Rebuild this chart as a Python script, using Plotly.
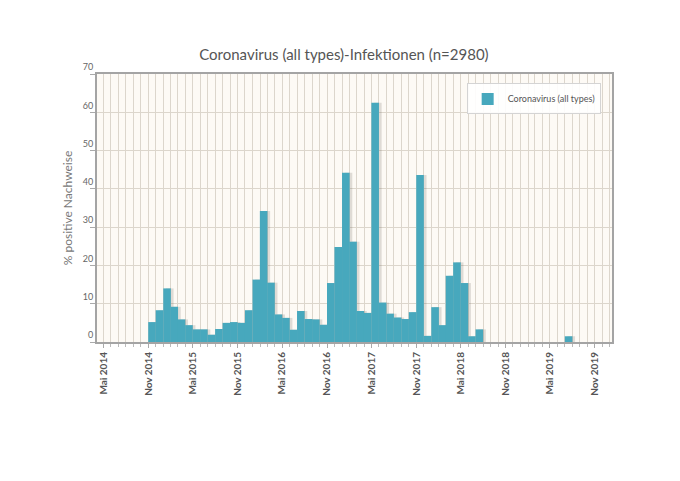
import pandas as pd
import plotly.graph_objects as go

# Monatswerte ab Nov 2014 (% positive Nachweise)
VALUES = [
    5.2, 8.3, 14.0, 9.2, 5.9, 4.4, 3.3, 3.3, 1.9, 3.4, 5.0, 5.2,      # Nov14 - Okt15
    5.0, 8.3, 16.3, 34.2, 15.5, 7.2, 6.3, 3.2, 8.1, 6.0, 5.9, 4.5,    # Nov15 - Okt16
    15.4, 24.8, 44.2, 26.2, 8.1, 7.6, 62.5, 10.3, 7.4, 6.4, 6.0, 7.8, # Nov16 - Okt17
    43.6, 1.6, 9.1, 4.4, 17.3, 20.8, 15.4, 1.5, 3.3, 0, 0, 0,         # Nov17 - Okt18
    0, 0, 0, 0, 0, 0, 0, 0, 1.5, 0, 0, 0,                             # Nov18 - Okt19
    0, 0,                                                             # Nov19 - Dez19
]
MONTHS = pd.date_range("2014-11-01", periods=len(VALUES), freq="MS")

TICK_VALS = ["2014-05-01", "2014-11-01", "2015-05-01", "2015-11-01",
             "2016-05-01", "2016-11-01", "2017-05-01", "2017-11-01",
             "2018-05-01", "2018-11-01", "2019-05-01", "2019-11-01"]
TICK_TEXT = ["Mai 2014", "Nov 2014", "Mai 2015", "Nov 2015",
             "Mai 2016", "Nov 2016", "Mai 2017", "Nov 2017",
             "Mai 2018", "Nov 2018", "Mai 2019", "Nov 2019"]

BAR_COLOR = "#47a8bd"
GRID_COLOR = "#dcd6cc"
DAY_MS = 24 * 3600 * 1000
BAR_W = 31 * DAY_MS

fig = go.Figure()

# Schatten (jqplot-Stil), leicht nach rechts versetzt
fig.add_trace(go.Bar(
    x=MONTHS, y=VALUES,
    xperiod="M1", xperiodalignment="middle",
    width=BAR_W, offset=-BAR_W / 2 + 11 * DAY_MS,
    marker=dict(color="rgba(70,60,50,0.16)", line=dict(width=0)),
    showlegend=False, hoverinfo="skip",
))
fig.add_trace(go.Bar(
    x=MONTHS, y=VALUES,
    name="Coronavirus (all types)",
    xperiod="M1", xperiodalignment="middle",
    width=BAR_W,
    marker=dict(color=BAR_COLOR, line=dict(width=0)),
))

# die Seite hat 8px Body-Rand -> Ränder entsprechend kleiner
fig.update_layout(
    width=680, height=481,
    barmode="overlay",
    paper_bgcolor="white",
    plot_bgcolor="#fdfaf5",
    margin=dict(l=89, r=76, t=66, b=147),
    font=dict(family="Lato, Open Sans, sans-serif", color="#555"),
    title=dict(
        text="Coronavirus (all types)-Infektionen (n=2980)",
        x=0.494, xanchor="center", y=0.902, yanchor="middle",
        font=dict(size=15, color="#555"),
    ),
    legend=dict(
        x=0.978, xanchor="right", y=0.965, yanchor="top",
        bgcolor="rgba(255,255,255,0.9)", bordercolor="#d4d4d4", borderwidth=1,
        font=dict(size=9, color="#555"),
        itemwidth=30,
    ),
    showlegend=True,
)

fig.update_xaxes(
    type="date",
    range=["2014-04-05", "2020-01-10"],
    tickmode="array", tickvals=TICK_VALS, ticktext=TICK_TEXT,
    tickangle=-90,
    tickfont=dict(size=10, color="#555", weight="bold"),
    ticks="outside", ticklen=4, tickcolor="#aaa",
    showgrid=True, gridcolor=GRID_COLOR, gridwidth=1,
    minor=dict(dtick="M1", tick0="2014-05-01", showgrid=True,
               gridcolor=GRID_COLOR, gridwidth=1,
               ticks="outside", ticklen=3, tickcolor="#bbb"),
    showline=True, linecolor="#a4a4a4", linewidth=2, mirror=True,
    zeroline=False,
)

fig.update_yaxes(
    range=[0, 70], dtick=10,
    tickfont=dict(size=9, color="#666"),
    ticklabelposition="outside top",
    ticks="outside", ticklen=5, tickcolor="#aaa",
    showgrid=True, gridcolor=GRID_COLOR, gridwidth=1,
    showline=True, linecolor="#a4a4a4", linewidth=2, mirror=True,
    zeroline=False,
    title=dict(text="% positive Nachweise", standoff=8,
               font=dict(size=12, color="#777")),
)

fig.write_html("out.html")
